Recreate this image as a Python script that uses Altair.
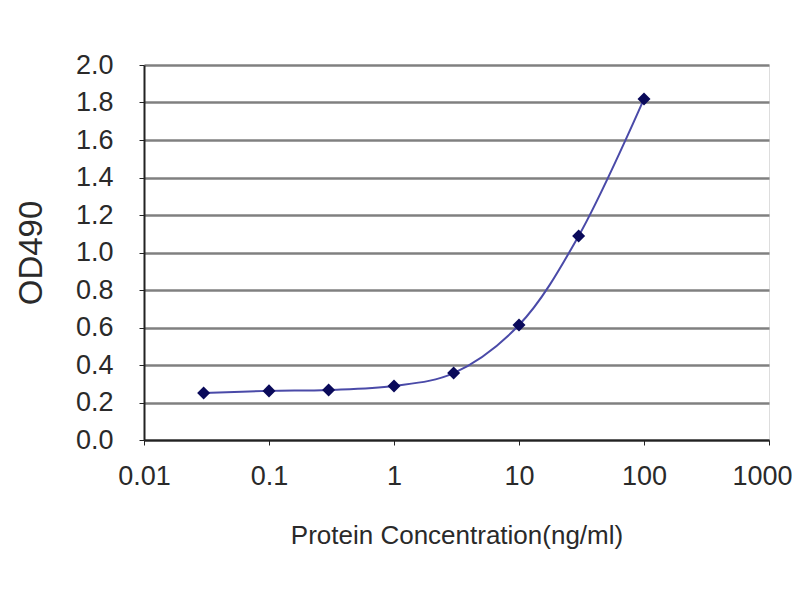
import altair as alt
import pandas as pd

conc = [0.03, 0.1, 0.3, 1, 3, 10, 30, 100]
od490 = [0.251, 0.262, 0.267, 0.288, 0.357, 0.613, 1.088, 1.819]
x_ticks = [0.01, 0.1, 1, 10, 100, 1000]
y_ticks = [0.0, 0.2, 0.4, 0.6, 0.8, 1.0, 1.2, 1.4, 1.6, 1.8, 2.0]

df = pd.DataFrame({"conc": conc, "od": od490})

FONT = "Liberation Sans"
TXT = "#2a2a2a"

x_enc = alt.X(
    "conc:Q",
    scale=alt.Scale(type="log", domain=[0.01, 1000], nice=False),
    axis=alt.Axis(
        values=x_ticks, format="~g", title="Protein Concentration(ng/ml)",
        grid=False, labelOverlap=False, labelFlush=False,
        labelAlign=alt.ExprRef(expr="datum.value >= 1000 ? 'right' : 'center'"),
        labelOffset=alt.ExprRef(expr="datum.value >= 1000 ? 23 : 0"),
        tickSize=5, tickColor="#222", domainColor="#222", domainWidth=2,
        labelFontSize=27, labelColor=TXT, labelPadding=18,
        titleFontSize=26, titleFontWeight="normal", titleColor=TXT, titlePadding=33,
        labelFont=FONT, titleFont=FONT,
    ),
)
y_enc = alt.Y(
    "od:Q",
    scale=alt.Scale(domain=[0, 2.0], nice=False),
    axis=alt.Axis(
        values=y_ticks, format=".1f", title="OD490",
        grid=True, gridColor="#808080", gridWidth=2.5,
        labelOverlap=False, labelFlush=False,
        tickSize=5, tickColor="#222", domainColor="#222", domainWidth=2,
        labelFontSize=27, labelColor=TXT, labelPadding=26,
        titleFontSize=33, titleFontWeight="normal", titleColor=TXT, titlePadding=27,
        labelFont=FONT, titleFont=FONT,
    ),
)

base = alt.Chart(df).encode(x=x_enc, y=y_enc)

line = base.mark_line(interpolate="catmull-rom", color="#4a4aa8", strokeWidth=2)
pts = base.mark_point(shape="diamond", filled=True, color="#0a0a5a", size=170, opacity=1)

chart = (
    alt.layer(line, pts)
    .properties(
        width=625, height=375,
        autosize=alt.AutoSizeParams(type="none"),
        padding={"left": 136, "top": 57, "right": 23, "bottom": 135},
    )
    .configure_view(stroke="#808080", strokeWidth=2)
    .configure(background="white")
)

chart.save("out.html", embed_options={"renderer": "svg", "actions": False})
